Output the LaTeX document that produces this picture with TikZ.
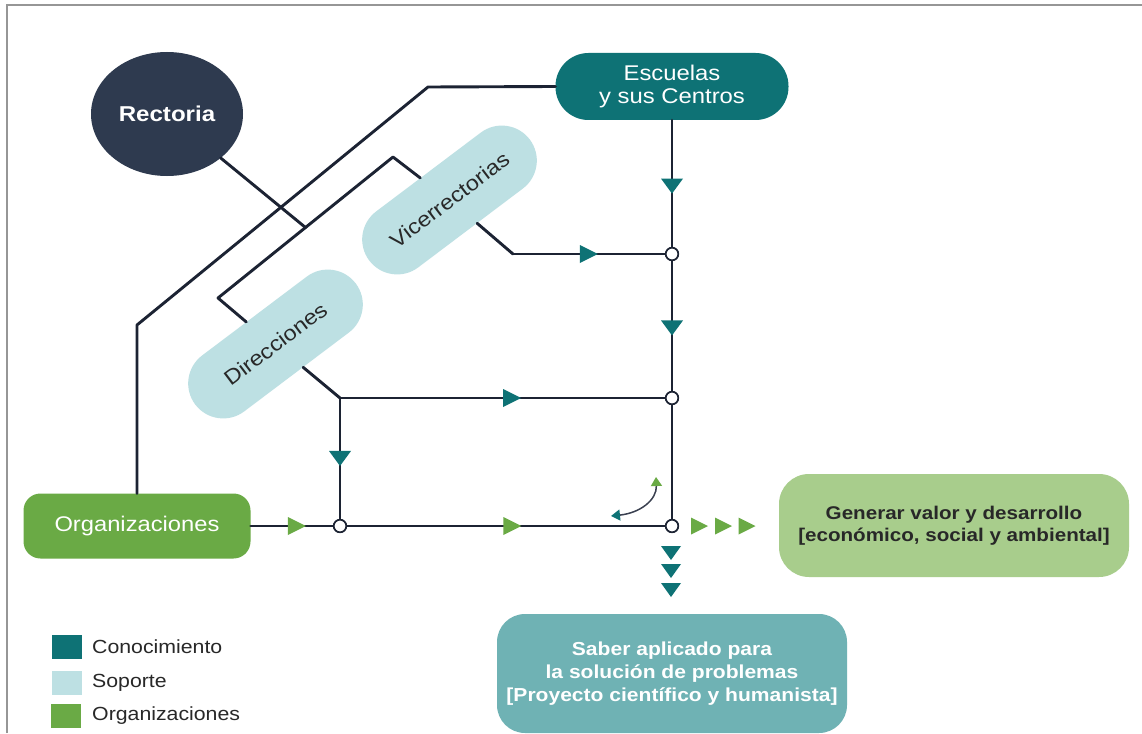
\documentclass[tikz,border=0pt]{standalone}
\usepackage{fontspec}
\setmainfont[FakeStretch=1.12]{Liberation Sans}
\usetikzlibrary{shapes.geometric,arrows.meta,calc,decorations.markings}
\definecolor{navy}{RGB}{46,58,79}
\definecolor{lin}{RGB}{28,35,51}
\definecolor{tealk}{RGB}{14,114,117}
\definecolor{soft}{RGB}{189,224,227}
\definecolor{orggreen}{RGB}{106,170,69}
\definecolor{lightgreen}{RGB}{168,205,140}
\definecolor{midteal}{RGB}{111,178,180}
\definecolor{txt}{RGB}{40,40,40}
\definecolor{framec}{RGB}{150,150,150}
\definecolor{curvec}{RGB}{58,64,80}
\begin{document}
\begin{tikzpicture}[x=1pt,y=-1pt,
  conn/.style={draw=lin, line width=2.9pt, line cap=round, line join=round},
  harr/.style args={#1 at #2}{postaction={decorate}, decoration={markings, mark=at position #2 with {\fill[#1] (-9pt,-9pt) -- (9pt,0pt) -- (-9pt,9pt) -- cycle;}}},
  varr/.style args={#1 at #2}{postaction={decorate}, decoration={markings, mark=at position #2 with {\fill[#1] (-7.5pt,-11pt) -- (7.5pt,0pt) -- (-7.5pt,11pt) -- cycle;}}},
  junc/.style={circle, draw=lin, fill=white, line width=1.6pt, minimum size=12.5pt, inner sep=0pt},
  pill/.style={rectangle, rounded corners=35pt, fill=soft, minimum width=201pt, minimum height=70pt, inner sep=0pt, text=txt, font=\fontsize{21}{24}\selectfont, rotate=37},
  box/.style={rectangle, inner sep=0pt, align=center},
  legsq/.style={rectangle, minimum width=30pt, minimum height=24pt, inner sep=0pt},
  legtx/.style={anchor=west, inner sep=0pt, font=\fontsize{19}{22}\selectfont, text=txt},
  trih/.pic={\path[pic actions] (-8.5,-8.5) -- (8.5,0) -- (-8.5,8.5) -- cycle;},
  trid/.pic={\path[pic actions] (-10,-7) -- (10,-7) -- (0,7) -- cycle;}
]
\useasboundingbox (0,0) rectangle (1142,733);
\fill[white] (0,0) rectangle (1142,733);
\draw[framec, line width=2pt] (7,733) -- (7,5) -- (1142,5);

% nodes
\node[ellipse, fill=navy, minimum width=152pt, minimum height=124pt, inner sep=0pt, text=white, font=\bfseries\fontsize{21.5}{24}\selectfont] (rect) at (167,114) {Rectoria};
\node[box, rounded corners=33pt, fill=tealk, minimum width=233pt, minimum height=67pt, text=white, font=\fontsize{21.3}{23}\selectfont] (esc) at (672,86.5) {Escuelas\\y sus Centros};
\node[pill] (vic) at (449.5,200) {Vicerrectorias};
\node[pill] (dir) at (275.5,344) {Direcciones};
\node[box, rounded corners=17pt, fill=orggreen, minimum width=227pt, minimum height=65pt, text=white, font=\fontsize{21.2}{24}\selectfont] (org) at (137,526) {Organizaciones};
\node[box, rounded corners=30pt, fill=lightgreen, minimum width=350pt, minimum height=103pt, text=txt, font=\bfseries\fontsize{18.4}{22}\selectfont] (gen) at (954,525.5) {\raisebox{-3pt}{\parbox{330pt}{\centering Generar valor y desarrollo\\{}[económico, social y ambiental]}}};
\node[box, rounded corners=28pt, fill=midteal, minimum width=350pt, minimum height=119pt, text=white, font=\bfseries\fontsize{18.8}{23}\selectfont] (sab) at (672,673.5) {Saber aplicado para\\la solución de problemas\\{}[Proyecto científico y humanista]};

% coordinates
\coordinate (oC1) at (428,87);
\coordinate (oC2) at (137,325);
\coordinate (vC1) at (393,157);
\coordinate (dC1) at (218,298);
\coordinate (vU) at ($(vic.north west)!0.45!(vic.north east)$);
\coordinate (dU) at ($(dir.north west)!0.45!(dir.north east)$);
\coordinate (vL) at ($(vic.south west)!0.54!(vic.south east)$);
\coordinate (dL) at ($(dir.south west)!0.54!(dir.south east)$);
\coordinate (vC2) at (513,254);
\coordinate (dC2) at (340,398);
\coordinate (rEnd) at ($(vC1)!0.5!(dC1)$);

% connectors
\draw[conn] (esc.west) -- (oC1) -- (oC2) -- (org.north);
\draw[conn] (vU) -- (vC1) -- (dC1) -- (dU);
\draw[conn] (rect) -- (rEnd);
\draw[conn] (vL) -- (vC2);
\draw[conn] (dL) -- (dC2);

\node[junc] (j1) at (672,254) {};
\node[junc] (j2) at (672,398) {};
\node[junc] (j3) at (672,526) {};
\node[junc] (j5) at (340,526) {};

\draw[conn, varr=tealk at 0.52] (esc.south) -- (j1);
\draw[conn, varr=tealk at 0.515] (j1) -- (j2);
\draw[conn] (j2) -- (j3);
\draw[conn, harr=tealk at 0.5] (vC2) -- (j1);
\draw[conn, harr=tealk at 0.53] (dC2) -- (j2);
\draw[conn, varr=tealk at 0.5] (dC2) -- (j5);
\draw[conn, harr=orggreen at 0.56] (org.east) -- (j5);
\draw[conn, harr=orggreen at 0.52] (j5) -- (j3);

% redraw junction circles on top
\node[junc] at (j1) {};
\node[junc] at (j2) {};
\node[junc] at (j3) {};
\node[junc] at (j5) {};

% curved double arrow
\coordinate (cA) at (656,477);
\coordinate (cB) at (611,516);
\draw[curvec, line width=1.5pt, {Triangle[color=orggreen,length=9pt,width=11pt]}-{Triangle[color=tealk,length=9pt,width=11pt]}] (cA) .. controls (657,500) and (640,513) .. (cB);

% output triangles
\pic[fill=orggreen] at (699.5,526) {trih};
\pic[fill=orggreen] at (723.5,526) {trih};
\pic[fill=orggreen] at (747,526) {trih};
\pic[fill=tealk] at (671,553) {trid};
\pic[fill=tealk] at (671,571) {trid};
\pic[fill=tealk] at (671,590) {trid};

% legend
\node[legsq, fill=tealk] (l1) at (67,647) {};
\node[legsq, fill=soft] (l2) at (66.5,683) {};
\node[legsq, fill=orggreen] (l3) at (66,716) {};
\node[legtx] (t1) at (92,647) {Conocimiento};
\node[legtx] (t2) at (92,683) {Soporte};
\node[legtx] (t3) at (92,716) {Organizaciones};
\end{tikzpicture}
\end{document}
